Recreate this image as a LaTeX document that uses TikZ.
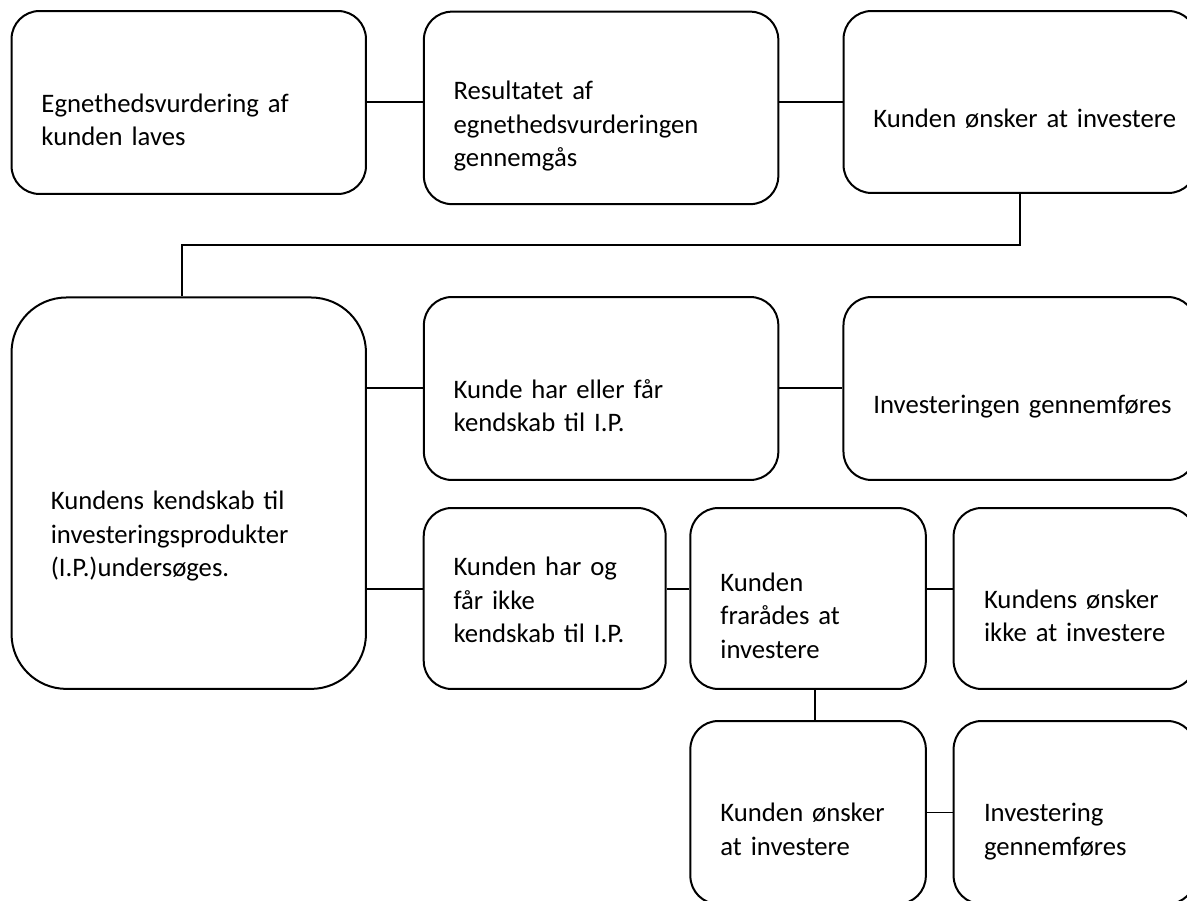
\documentclass[tikz,border=0pt]{standalone}
\usepackage{fontspec}
\setmainfont[WordSpace=0.85]{Carlito}
\usepackage{tikz}

\begin{document}
\begin{tikzpicture}[x=0.02cm, y=-0.02cm,
    every node/.style={inner sep=0pt, font=\fontsize{15.2pt}{18.95pt}\selectfont},
    box/.style={draw, rectangle, rounded corners=0.56cm, line width=0.04cm},
    wide/.style={box, minimum width=7.09cm, minimum height=3.66cm},
    small/.style={box, minimum width=4.78cm, minimum height=3.62cm},
    txt/.style={anchor=base west, align=left, text width=8cm},
    line width=0.04cm]
    \useasboundingbox (0,0) rectangle (1187,901);
    \clip (0,0) rectangle (1187,901);

    % top row
    \node[wide] (egn) at (188.75,102.5) {};
    \node[wide, minimum height=3.85cm] (res) at (601.1,107.9) {};
    \node[wide, minimum width=7.06cm, minimum height=3.64cm] (oensk) at (1020,102) {};
    \node[txt] (egnT) at (40.5,112.3) {Egnethedsvurdering af\\kunden laves};
    \node[txt] (resT) at (452.6,100) {Resultatet af\\egnethedsvurderingen\\gennemgås};
    \node[txt] (oenskT) at (872.4,127.7) {Kunden ønsker at investere};

    % knowledge
    \node[wide, minimum height=7.83cm, rounded corners=1.1cm] (kendskab) at (188.75,493.2) {};
    \node[wide] (harell) at (601.1,388.5) {};
    \node[wide, minimum width=7.05cm] (gennem) at (1019.7,388.5) {};
    \node[txt] (kendskabT) at (49.8,510) {Kundens kendskab til\\investeringsprodukter\\(I.P.)undersøges.};
    \node[txt] (harellT) at (452.7,398.3) {Kunde har eller får\\kendskab til I.P.};
    \node[txt] (gennemT) at (872.4,413.3) {Investeringen gennemføres};

    % no knowledge
    \node[small, minimum width=4.84cm] (harikke) at (544.7,598.5) {};
    \node[small, minimum width=4.71cm] (fraraad) at (808.1,598.5) {};
    \node[small, minimum width=4.84cm] (oenskIkke) at (1074.6,598.5) {};
    \node[small, minimum width=4.71cm, minimum height=3.66cm] (oensk2) at (808.1,812.5) {};
    \node[small, minimum width=4.84cm, minimum height=3.66cm] (invest2) at (1074.6,812.5) {};
    \node[txt] (harikkeT) at (452.5,576) {Kunden har og\\får ikke\\kendskab til I.P.};
    \node[txt] (fraraadT) at (719.4,591.7) {Kunden\\frarådes at\\investere};
    \node[txt] (oenskIkkeT) at (983,608.3) {Kundens ønsker\\ikke at investere};
    \node[txt] (oensk2T) at (719.4,822) {Kunden ønsker\\at investere};
    \node[txt] (invest2T) at (983,822) {Investering\\gennemføres};

    \coordinate (row) at (0,589);

    \draw (egn.east) -- (egn.east -| res.west);
    \draw (oensk.west -| res.east) -- (oensk.west);
    \draw (oensk.south) -- ++(0,51) -| ([xshift=-0.14cm]kendskab.north);
    \draw (harell.west -| kendskab.east) -- (harell.west);
    \draw (harell.east) -- (gennem.west);
    \draw (kendskab.east |- row) -- (harikke.west |- row);
    \draw (harikke.east |- row) -- (fraraad.west |- row);
    \draw (fraraad.east |- row) -- (oenskIkke.west |- row);
    \draw ([xshift=0.14cm]fraraad.south) -- ([xshift=0.14cm]oensk2.north);
    \draw (oensk2.east) -- (invest2.west);
\end{tikzpicture}
\end{document}
